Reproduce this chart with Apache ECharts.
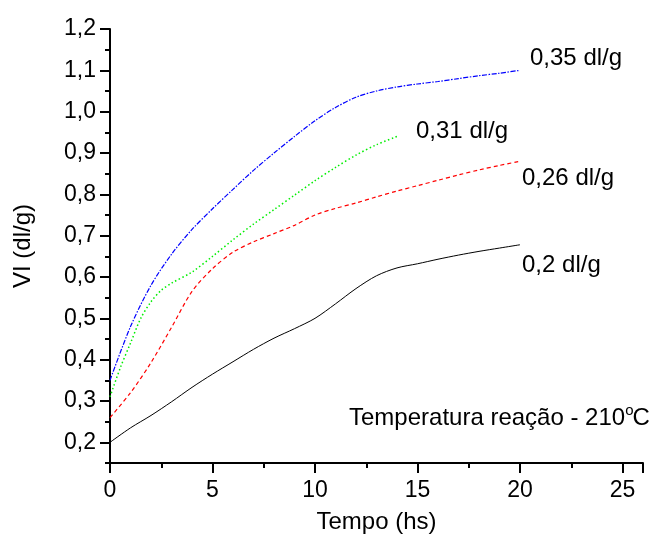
<!DOCTYPE html>
<html><head><meta charset="utf-8">
<script src="https://cdn.jsdelivr.net/npm/echarts@6/dist/echarts.min.js"></script>
<style>html,body{margin:0;padding:0;background:#fff}#c{width:650px;height:536px}</style>
</head><body><div id="c"></div>
<script>
const xValues = [0,1,2,3,4,5,6,7,8,9,10,11,12,13,14,15,16,17,18,19,20];
const vi020 = [0.2,0.235,0.265,0.298,0.333,0.365,0.395,0.425,0.452,0.475,0.5,0.535,0.572,0.603,0.622,0.632,0.643,0.653,0.662,0.67,0.678];
const vi026 = [0.26,0.32,0.393,0.478,0.565,0.62,0.66,0.685,0.705,0.725,0.75,0.766,0.779,0.794,0.808,0.821,0.834,0.847,0.859,0.87,0.88];
const xGreen = [0,0.5,1,1.5,2,2.5,3,4,5,6,7,8,9,10,11,12,13,14];
const vi031 = [0.31,0.38,0.44,0.5,0.54,0.568,0.585,0.612,0.65,0.69,0.728,0.763,0.798,0.833,0.865,0.895,0.92,0.94];
const vi035 = [0.35,0.48,0.58,0.655,0.715,0.765,0.812,0.858,0.9,0.94,0.978,1.01,1.035,1.05,1.06,1.067,1.073,1.08,1.087,1.093,1.1];
const seriesNames = ['0,2 dl/g','0,26 dl/g','0,31 dl/g','0,35 dl/g'];
const yMajorTicks = [0.2,0.3,0.4,0.5,0.6,0.7,0.8,0.9,1.0,1.1,1.2];
const yMinorTicks = [0.15,0.25,0.35,0.45,0.55,0.65,0.75,0.85,0.95,1.05,1.15];
const xTitle = 'Tempo (hs)';
const yTitle = 'VI (dl/g)';
const note = 'Temperatura reação - 210';
const noteSup = 'o';
const noteEnd = 'C';

const pair = (xs, ys) => xs.map((x, i) => [x, ys[i]]);
const font = 'Liberation Sans, Arial, sans-serif';

const mctx = document.createElement('canvas').getContext('2d');
mctx.font = '24px ' + font;
const noteW = mctx.measureText(note).width;
mctx.font = '15px ' + font;
const supW = mctx.measureText(noteSup).width;
const noteX = 349, noteY = 406;

const chart = echarts.init(document.getElementById('c'), null, {renderer: 'canvas'});
const tickStyle = {color: '#000', width: 2};
chart.setOption({
  animation: false,
  backgroundColor: '#fff',
  grid: {left: 110, right: 7, top: 29, bottom: 73, containLabel: false, outerBoundsMode: 'none'},
  xAxis: {
    type: 'value', min: 0, max: 26, interval: 5,
    name: xTitle, nameLocation: 'middle', nameGap: 47,
    nameTextStyle: {fontFamily: font, fontSize: 24, color: '#000'},
    axisLine: {show: true, onZero: false, lineStyle: {color: '#000', width: 2}},
    axisTick: {show: true, length: 10, lineStyle: tickStyle},
    minorTick: {show: true, splitNumber: 2, length: 5, lineStyle: tickStyle},
    splitLine: {show: false},
    axisLabel: {fontFamily: font, fontSize: 23, color: '#000', margin: 16,
      formatter: v => (v % 5 === 0 ? String(v) : '')}
  },
  yAxis: [{
    type: 'value', min: 0.15, max: 1.2,
    name: yTitle, nameLocation: 'middle', nameGap: 75,
    nameTextStyle: {fontFamily: font, fontSize: 24, color: '#000'},
    axisLine: {show: true, onZero: false, lineStyle: {color: '#000', width: 2}},
    axisTick: {show: true, length: 10, lineStyle: tickStyle, customValues: yMajorTicks},
    splitLine: {show: false},
    axisLabel: {fontFamily: font, fontSize: 23, color: '#000', margin: 14,
      customValues: yMajorTicks, formatter: v => v.toFixed(1).replace('.', ',')}
  }, {
    type: 'value', min: 0.15, max: 1.2, position: 'left',
    axisLine: {show: false},
    axisTick: {show: true, length: 5, lineStyle: tickStyle, customValues: yMinorTicks},
    splitLine: {show: false},
    axisLabel: {show: false}
  }],
  series: [
    {name: seriesNames[0], type: 'line', data: pair(xValues, vi020), smooth: 0.3, showSymbol: false,
      lineStyle: {color: '#000', width: 1, type: 'solid'}},
    {name: seriesNames[1], type: 'line', data: pair(xValues, vi026), smooth: 0.3, showSymbol: false,
      lineStyle: {color: '#ff0000', width: 1.2, type: [4, 3]}},
    {name: seriesNames[2], type: 'line', data: pair(xGreen, vi031), smooth: 0.3, showSymbol: false,
      lineStyle: {color: '#00ee00', width: 1.5, type: [1.5, 2.5]}},
    {name: seriesNames[3], type: 'line', data: pair(xValues, vi035), smooth: 0.3, showSymbol: false,
      lineStyle: {color: '#0000ff', width: 1.2, type: [5, 1.5, 1.5, 1.5]}}
  ],
  graphic: [
    {type: 'text', left: 530, top: 46, style: {text: seriesNames[3], font: '24px ' + font, fill: '#000'}},
    {type: 'text', left: 416, top: 119, style: {text: seriesNames[2], font: '24px ' + font, fill: '#000'}},
    {type: 'text', left: 522, top: 166, style: {text: seriesNames[1], font: '24px ' + font, fill: '#000'}},
    {type: 'text', left: 522, top: 253, style: {text: seriesNames[0], font: '24px ' + font, fill: '#000'}},
    {type: 'text', left: noteX, top: noteY, style: {text: note, font: '24px ' + font, fill: '#000'}},
    {type: 'text', left: noteX + noteW, top: noteY - 3, style: {text: noteSup, font: '15px ' + font, fill: '#000'}},
    {type: 'text', left: noteX + noteW + supW - 1, top: noteY, style: {text: noteEnd, font: '24px ' + font, fill: '#000'}}
  ]
});
</script></body></html>
